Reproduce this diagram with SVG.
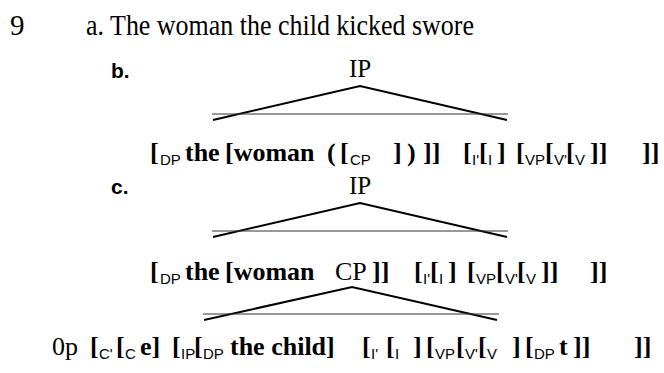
<svg xmlns="http://www.w3.org/2000/svg" width="664" height="373" viewBox="0 0 664 373">
<style>
.bg{fill:#fff}
.ser{font-family:"Liberation Serif","Times New Roman",serif;fill:#000}
.big{font-size:29px}
.lab{font-family:"Liberation Sans",Arial,sans-serif;font-size:21px;font-weight:bold;fill:#000}
.ip{font-family:"Liberation Serif",serif;font-size:25px;fill:#000}
.w{font-family:"Liberation Serif",serif;font-size:26px;font-weight:bold;fill:#000}
.s{font-family:"Liberation Sans",Arial,sans-serif;font-size:15px;font-weight:normal}
.n{font-weight:normal}
.side{stroke:#000;stroke-width:2;fill:none}
.base{stroke:#333;stroke-width:1.2;fill:none}
</style>
<rect class="bg" width="664" height="373"/>
<g id="example">
<text class="ser big" x="10" y="35">9</text>
<text class="ser big" x="86" y="35" textLength="388" lengthAdjust="spacingAndGlyphs">a. The woman the child kicked swore</text>
</g>
<g id="label-b"><text class="lab" x="111" y="78">b.</text></g>
<g id="ip-b"><text class="ip" x="360" y="77" text-anchor="middle">IP</text></g>
<g id="string-b">
<text class="w" y="161">
<tspan x="150">[</tspan><tspan class="s" x="160" dy="4">DP</tspan><tspan x="185" dy="-4">the</tspan><tspan x="225">[woman</tspan>
<tspan x="327">(</tspan><tspan x="340">[</tspan><tspan class="s" x="350" dy="4">CP</tspan><tspan x="393" dy="-4">]</tspan><tspan x="407">)</tspan><tspan x="423">]]</tspan>
<tspan x="463">[</tspan><tspan class="s" x="472" dy="4">I'</tspan><tspan x="479" dy="-4">[</tspan><tspan class="s" x="488" dy="4">I</tspan><tspan x="497" dy="-4">]</tspan>
<tspan x="516">[</tspan><tspan class="s" x="525" dy="4">VP</tspan><tspan x="545" dy="-4">[</tspan><tspan class="s" x="554" dy="4">V'</tspan><tspan x="566" dy="-4">[</tspan><tspan class="s" x="575" dy="4">V</tspan><tspan x="590" dy="-4">]]</tspan><tspan x="642">]]</tspan>
</text>
</g>
<g id="label-c"><text class="lab" x="111" y="194">c.</text></g>
<g id="ip-c"><text class="ip" x="360" y="194" text-anchor="middle">IP</text></g>
<g id="string-c">
<text class="w" y="280">
<tspan x="150">[</tspan><tspan class="s" x="160" dy="4">DP</tspan><tspan x="185" dy="-4">the</tspan><tspan x="225">[woman</tspan>
<tspan class="n" x="335">CP</tspan><tspan x="372">]]</tspan>
<tspan x="414">[</tspan><tspan class="s" x="423" dy="4">I'</tspan><tspan x="430" dy="-4">[</tspan><tspan class="s" x="439" dy="4">I</tspan><tspan x="448" dy="-4">]</tspan>
<tspan x="467">[</tspan><tspan class="s" x="476" dy="4">VP</tspan><tspan x="496" dy="-4">[</tspan><tspan class="s" x="505" dy="4">V'</tspan><tspan x="517" dy="-4">[</tspan><tspan class="s" x="526" dy="4">V</tspan><tspan x="541" dy="-4">]]</tspan><tspan x="590">]]</tspan>
</text>
</g>
<g id="string-cp">
<text class="w" y="355">
<tspan class="n" x="52">0p</tspan><tspan x="90">[</tspan><tspan class="s" x="99" dy="4">C'</tspan><tspan x="116" dy="-4">[</tspan><tspan class="s" x="125" dy="4">C</tspan><tspan x="140" dy="-4">e]</tspan>
<tspan x="172">[</tspan><tspan class="s" x="181" dy="4">IP</tspan><tspan x="194" dy="-4">[</tspan><tspan class="s" x="203" dy="4">DP</tspan><tspan x="230" dy="-4">the child]</tspan>
<tspan x="362">[</tspan><tspan class="s" x="371" dy="4">I'</tspan><tspan x="386" dy="-4">[</tspan><tspan class="s" x="395" dy="4">I</tspan><tspan x="413" dy="-4">]</tspan>
<tspan x="426">[</tspan><tspan class="s" x="435" dy="4">VP</tspan><tspan x="456" dy="-4">[</tspan><tspan class="s" x="465" dy="4">V'</tspan><tspan x="478" dy="-4">[</tspan><tspan class="s" x="487" dy="4">V</tspan><tspan x="512" dy="-4">]</tspan>
<tspan x="525">[</tspan><tspan class="s" x="534" dy="4">DP</tspan><tspan x="559" dy="-4">t</tspan><tspan x="573">]]</tspan><tspan x="634">]]</tspan>
</text>
</g>
<g id="connectors">
<path class="side" d="M213 120 L360 86 L507 120"/>
<line class="base" x1="212" y1="114" x2="508" y2="114"/>
<path class="side" d="M213 237 L360 203 L507 237"/>
<line class="base" x1="212" y1="231" x2="508" y2="231"/>
<path class="side" d="M204 320 L352 287 L497 320"/>
<line class="base" x1="203" y1="314" x2="499" y2="314"/>
</g>
</svg>
